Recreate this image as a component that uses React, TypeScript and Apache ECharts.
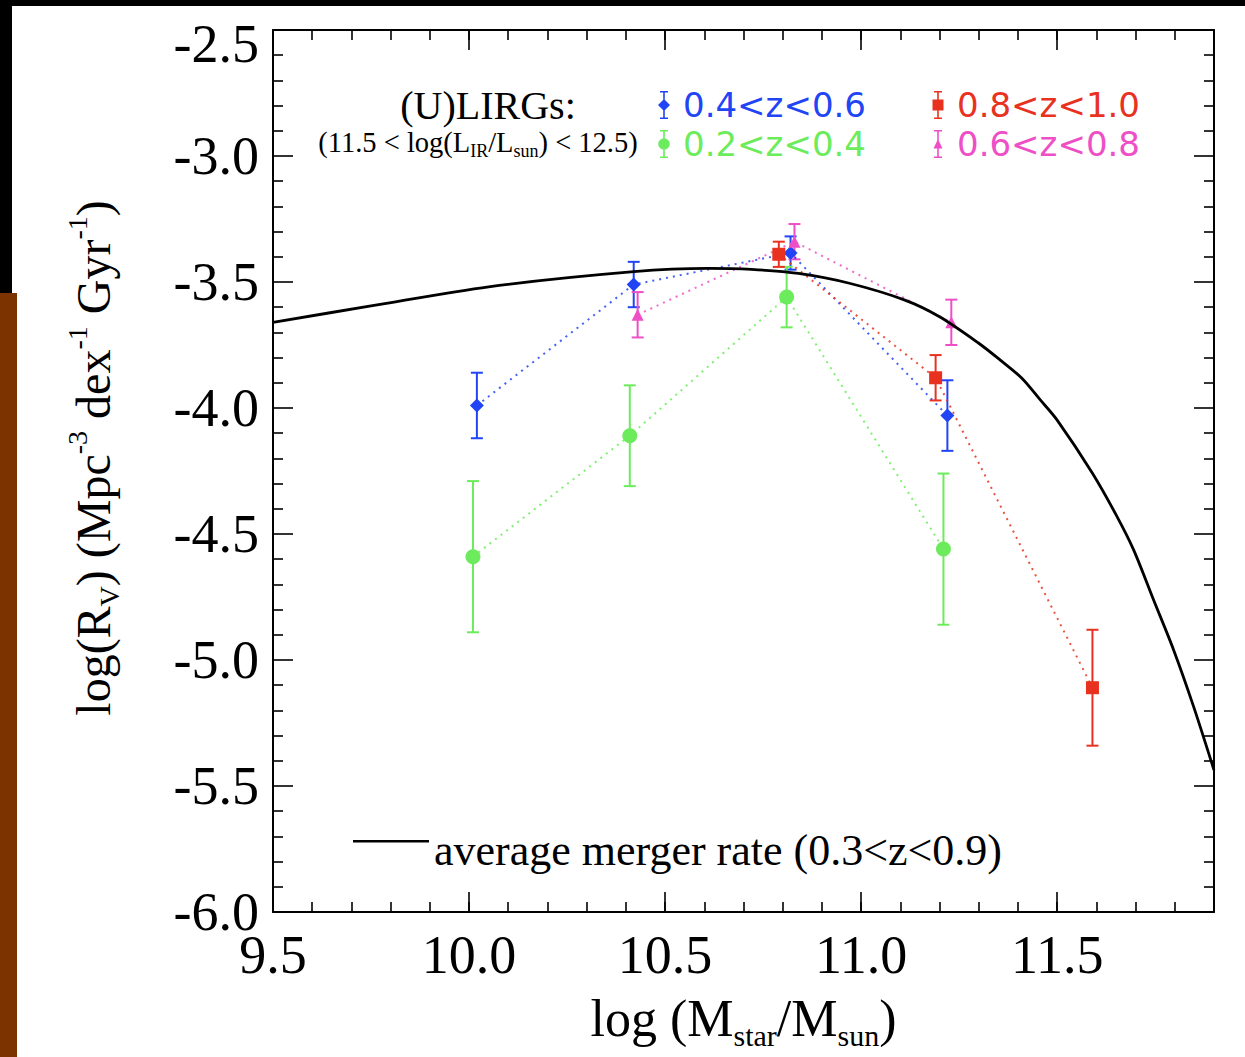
import React, { useEffect, useRef } from 'react';
import * as echarts from 'echarts';

// ---- data ----
const blueX = [10.02, 10.42, 10.82, 11.22];
const blueY = [-3.99, -3.51, -3.385, -4.03];
const blueErr = [0.13, 0.09, 0.066, 0.14];

const greenX = [10.01, 10.41, 10.81, 11.21];
const greenY = [-4.59, -4.11, -3.56, -4.56];
const greenErr = [0.3, 0.2, 0.12, 0.3];

const redX = [10.79, 11.19, 11.59];
const redY = [-3.39, -3.88, -5.11];
const redErr = [0.05, 0.09, 0.23];

const pinkX = [10.43, 10.83, 11.23];
const pinkY = [-3.63, -3.34, -3.66];
const pinkErr = [0.09, 0.07, 0.09];

const curveX = [9.5, 9.75, 10.05, 10.42, 10.61, 10.72, 10.84, 10.97, 11.11, 11.2, 11.3, 11.355, 11.41, 11.457, 11.5, 11.59, 11.652, 11.695, 11.746, 11.797, 11.848, 11.9];
const curveY = [-3.66, -3.595, -3.519, -3.459, -3.446, -3.45, -3.466, -3.505, -3.571, -3.638, -3.743, -3.81, -3.882, -3.968, -4.048, -4.259, -4.429, -4.563, -4.762, -4.96, -5.185, -5.437];

const seriesNames = ['0.4<z<0.6', '0.2<z<0.4', '0.8<z<1.0', '0.6<z<0.8'];
const curveName = 'average merger rate (0.3<z<0.9)';

const BLUE = '#2145f5';
const GREEN = '#6cec5c';
const RED = '#e8321f';
const PINK = '#ee4fc6';

const SERIF = "'Liberation Serif', 'Times New Roman', Times, serif";
const SANS = "'DejaVu Sans', 'Liberation Sans', sans-serif";

// icon box: 20 x 28 (tiny corner specks fix the bounding box)
const SPECKS = ' M0 0 L0.02 0 L0.02 0.02 Z M19.98 27.98 L20 27.98 L20 28 Z';
const BAR = 'M2 0 L10 0 L10 1.6 L6.8 1.6 L6.8 26.4 L10 26.4 L10 28 L2 28 L2 26.4 L5.2 26.4 L5.2 1.6 L2 1.6 Z';
const ICON_DIAMOND = 'path://' + BAR + ' M6 8 L12 14 L6 20 L0 14 Z' + SPECKS;
const ICON_CIRCLE = 'path://' + BAR + ' M0.2 14 A5.8 5.8 0 1 1 11.8 14 A5.8 5.8 0 1 1 0.2 14 Z' + SPECKS;
const ICON_SQUARE = 'path://' + BAR + ' M0.5 8.5 L11.5 8.5 L11.5 19.5 L0.5 19.5 Z' + SPECKS;
const ICON_TRIANGLE = 'path://' + BAR + ' M6 9 L10.5 18.5 L1.5 18.5 Z' + SPECKS;
const ICON_LINE = 'path://M0 0 L76 0 L76 2.4 L0 2.4 Z M0 19.98 L0.02 19.98 L0.02 20 Z';

function pts(xs: number[], ys: number[]) {
  return xs.map((x, i) => [x, ys[i]]);
}
function errs(xs: number[], ys: number[], es: number[]) {
  return xs.map((x, i) => [x, ys[i], ys[i] - es[i], ys[i] + es[i]]);
}

function errorSeries(name: string, color: string, data: number[][]) {
  return {
    type: 'custom',
    name,
    z: 2,
    encode: { x: 0, y: 1 },
    data,
    renderItem: (params: any, api: any) => {
      const x = api.value(0);
      const lo = api.coord([x, api.value(2)]);
      const hi = api.coord([x, api.value(3)]);
      const hw = 6;
      const style = { stroke: color, lineWidth: 2 };
      return {
        type: 'group',
        children: [
          { type: 'line', shape: { x1: lo[0], y1: lo[1], x2: hi[0], y2: hi[1] }, style },
          { type: 'line', shape: { x1: lo[0] - hw, y1: lo[1], x2: lo[0] + hw, y2: lo[1] }, style },
          { type: 'line', shape: { x1: hi[0] - hw, y1: hi[1], x2: hi[0] + hw, y2: hi[1] }, style },
        ],
      };
    },
  };
}

function pointSeries(name: string, color: string, symbol: string, size: number, data: number[][]) {
  return {
    type: 'line',
    name,
    z: 3,
    data,
    symbol,
    symbolSize: size,
    showAllSymbol: true,
    itemStyle: { color },
    lineStyle: { color, width: 2, type: [2, 5], opacity: 0.85 },
  };
}

function zLegend(name: string, icon: string, color: string, left: number, top: number) {
  return {
    left,
    top,
    padding: 0,
    itemWidth: 20,
    itemHeight: 28,
    selectedMode: false,
    textStyle: { fontFamily: SANS, fontSize: 34, color },
    data: [{ name, icon }],
  };
}

const axisLineStyle = { color: '#000', width: 2 };
const tickStyle = { color: '#000', width: 1.6 };

export default function App() {
  const ref = useRef<HTMLDivElement>(null);

  useEffect(() => {
    if (!ref.current) return;
    const chart = echarts.init(ref.current, undefined, { renderer: 'svg' });

    const xBase = {
      type: 'value',
      min: 9.5,
      max: 11.9,
      splitLine: { show: false },
      axisLine: { show: true, onZero: false, lineStyle: axisLineStyle },
    };
    const yBase = {
      type: 'value',
      min: -6,
      max: -2.5,
      interval: 0.5,
      splitLine: { show: false },
      axisLine: { show: true, onZero: false, lineStyle: axisLineStyle },
      axisTick: { inside: true, length: 20, lineStyle: tickStyle },
      minorTick: { show: true, splitNumber: 5, length: 10, lineStyle: tickStyle },
    };

    const option: any = {
      animation: false,
      backgroundColor: '#ffffff',
      grid: { left: 273, top: 30, width: 941, height: 882 },
      xAxis: [
        {
          ...xBase,
          position: 'bottom',
          interval: 0.5,
          axisTick: { inside: true, length: 20, lineStyle: tickStyle },
          axisLabel: {
            margin: 16,
            fontSize: 54,
            fontFamily: SERIF,
            color: '#000',
            showMaxLabel: false,
            formatter: (v: number) => v.toFixed(1),
          },
          name: 'log (M{sub|star}/M{sub|sun})',
          nameLocation: 'middle',
          nameGap: 74,
          nameTextStyle: {
            fontSize: 52,
            fontFamily: SERIF,
            color: '#000',
            lineHeight: 64,
            rich: {
              sub: { fontSize: 30, fontFamily: SERIF, color: '#000', verticalAlign: 'bottom', lineHeight: 30 },
            },
          },
        },
        {
          ...xBase,
          position: 'bottom',
          interval: 0.1,
          axisLine: { show: false },
          axisTick: { inside: true, length: 10, lineStyle: tickStyle },
          axisLabel: { show: false },
        },
        {
          ...xBase,
          position: 'top',
          interval: 0.5,
          axisTick: { inside: true, length: 20, lineStyle: tickStyle },
          axisLabel: { show: false },
        },
        {
          ...xBase,
          position: 'top',
          interval: 0.1,
          axisLine: { show: false },
          axisTick: { inside: true, length: 10, lineStyle: tickStyle },
          axisLabel: { show: false },
        },
      ],
      yAxis: [
        {
          ...yBase,
          position: 'left',
          axisLabel: {
            margin: 14,
            fontSize: 54,
            fontFamily: SERIF,
            color: '#000',
            formatter: (v: number) => (v === -2.5 ? '{t|-2.5}' : v.toFixed(1)),
            rich: {
              t: { fontSize: 54, fontFamily: SERIF, color: '#000', padding: [28, 0, 0, 0] },
            },
          },
          name: 'log(R{sub|V}) (Mpc{sup|-3} dex{sup|-1} Gyr{sup|-1})',
          nameLocation: 'middle',
          nameRotate: 90,
          nameGap: 150,
          nameTextStyle: {
            fontSize: 48,
            fontFamily: SERIF,
            color: '#000',
            lineHeight: 60,
            padding: [0, 0, 0, 26],
            rich: {
              sub: { fontSize: 28, fontFamily: SERIF, color: '#000', verticalAlign: 'bottom', lineHeight: 28 },
              sup: { fontSize: 28, fontFamily: SERIF, color: '#000', verticalAlign: 'top', lineHeight: 28 },
            },
          },
        },
        {
          ...yBase,
          position: 'right',
          axisLabel: { show: false },
        },
      ],
      legend: [
        zLegend(seriesNames[0], ICON_DIAMOND, BLUE, 658, 88),
        zLegend(seriesNames[2], ICON_SQUARE, RED, 932, 88),
        zLegend(seriesNames[1], ICON_CIRCLE, GREEN, 658, 127),
        zLegend(seriesNames[3], ICON_TRIANGLE, PINK, 932, 127),
        {
          left: 353,
          top: 828,
          padding: 0,
          itemWidth: 76,
          itemHeight: 20,
          selectedMode: false,
          textStyle: { fontFamily: SERIF, fontSize: 44, color: '#000' },
          data: [{ name: curveName, icon: ICON_LINE }],
        },
      ],
      graphic: [
        { type: 'rect', shape: { x: 0, y: 0, width: 1245, height: 6 }, style: { fill: '#000' }, silent: true },
        { type: 'rect', shape: { x: 0, y: 0, width: 12, height: 293 }, style: { fill: '#000' }, silent: true },
        { type: 'rect', shape: { x: 0, y: 293, width: 17, height: 764 }, style: { fill: '#7d3300' }, silent: true },
        {
          type: 'text',
          x: 488,
          y: 105,
          style: {
            text: '(U)LIRGs:',
            fontSize: 40,
            fontFamily: SERIF,
            fill: '#000',
            align: 'center',
            verticalAlign: 'middle',
          },
        },
        {
          type: 'text',
          x: 478,
          y: 142,
          style: {
            text: '(11.5 < log(L{sub|IR}/L{sub|sun}) < 12.5)',
            fontSize: 28.5,
            fontFamily: SERIF,
            fill: '#000',
            align: 'center',
            verticalAlign: 'middle',
            lineHeight: 36,
            rich: {
              sub: { fontSize: 18, fontFamily: SERIF, fill: '#000', verticalAlign: 'bottom', lineHeight: 18 },
            },
          },
        },
      ],
      series: [
        {
          type: 'line',
          name: curveName,
          z: 4,
          data: pts(curveX, curveY),
          smooth: 0.3,
          symbol: 'none',
          itemStyle: { color: '#000' },
          lineStyle: { color: '#000', width: 2.8 },
        },
        pointSeries(seriesNames[0], BLUE, 'diamond', 14, pts(blueX, blueY)),
        pointSeries(seriesNames[1], GREEN, 'circle', 15, pts(greenX, greenY)),
        pointSeries(seriesNames[2], RED, 'rect', 13, pts(redX, redY)),
        pointSeries(seriesNames[3], PINK, 'triangle', 12, pts(pinkX, pinkY)),
        errorSeries(seriesNames[0], BLUE, errs(blueX, blueY, blueErr)),
        errorSeries(seriesNames[1], GREEN, errs(greenX, greenY, greenErr)),
        errorSeries(seriesNames[2], RED, errs(redX, redY, redErr)),
        errorSeries(seriesNames[3], PINK, errs(pinkX, pinkY, pinkErr)),
      ],
    };

    chart.setOption(option);
    return () => chart.dispose();
  }, []);

  return (
    <div
      ref={ref}
      style={{ position: 'fixed', left: 0, top: 0, width: 1245, height: 1057, background: '#fff' }}
    />
  );
}
